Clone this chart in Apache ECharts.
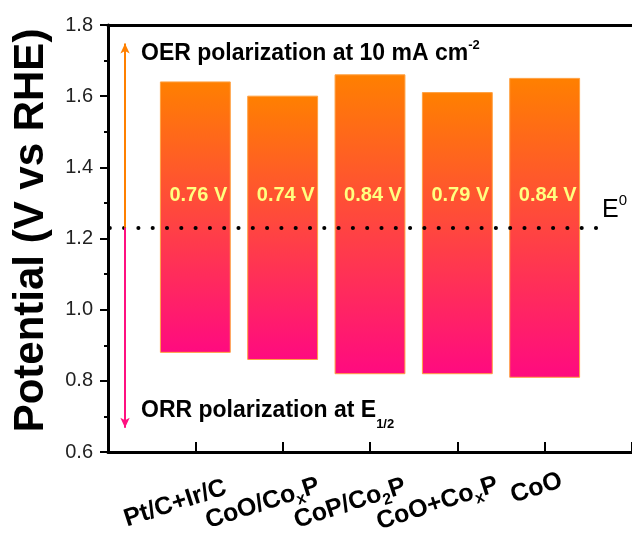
<!DOCTYPE html>
<html>
<head>
<meta charset="utf-8">
<script src="https://cdn.jsdelivr.net/npm/echarts@6/dist/echarts.min.js"></script>
<style>
  html, body { margin: 0; padding: 0; background: #fff; }
  #chart { width: 632px; height: 536px; }
</style>
</head>
<body>
<div id="chart"></div>
<script>
// Catalysts and their bifunctional potentials (V vs RHE)
const categories = ['Pt/C+Ir/C', 'CoO/Co_xP', 'CoP/Co_2P', 'CoO+Co_xP', 'CoO'];
const oerPotential = [1.64, 1.60, 1.66, 1.61, 1.65];   // OER at 10 mA cm-2
const orrPotential = [0.88, 0.86, 0.82, 0.82, 0.81];   // ORR half-wave E1/2
const yTicks = [0.6, 0.8, 1.0, 1.2, 1.4, 1.6, 1.8];
const E0 = 1.23;               // equilibrium potential
const GAP_LABEL_LEVEL = 1.322; // potential at which the gap labels sit
const ARROW_X = 0.195;         // x position of the OER/ORR arrows (axis units)
const OER_ARROW_TIP = 1.748;
const ORR_ARROW_TIP = 0.668;

const FONT = 'Liberation Sans, Arial, sans-serif';

// per-label nudge of the slanted category names: [trailing gap width, bottom padding]
const nameNudge = [[42, 0], [42, 0], [42, 0], [42, 0], [10, 22]];

const barData = categories.map((c, i) => [i + 1, orrPotential[i], oerPotential[i]]);

function richName(name, idx) {
  // "Co_xP" -> Co + subscript x + P
  const body = name.split(/_(\w)/).map((part, k) =>
    part === '' ? '' : (k % 2 === 1 ? '{s' + idx + '|' + part + '}' : '{m' + idx + '|' + part + '}')
  ).join('');
  return body + '{g' + idx + '| }';
}

const nameRich = {};
nameNudge.forEach(([gap, padB], i) => {
  nameRich['m' + i] = { fontFamily: FONT, fontSize: 25, fontWeight: 'bold', color: '#000', lineHeight: 32, padding: [0, 0, padB, 0] };
  nameRich['s' + i] = { fontFamily: FONT, fontSize: 16, fontWeight: 'bold', color: '#000', verticalAlign: 'bottom', padding: [0, 0, padB, 0] };
  nameRich['g' + i] = { width: gap };
});

const chart = echarts.init(document.getElementById('chart'), null, { renderer: 'canvas' });

const option = {
  animation: false,
  backgroundColor: '#fff',
  grid: { left: 108, right: 0, top: 25, bottom: 84, containLabel: false, outerBoundsMode: 'none' },
  xAxis: [
    {
      type: 'value', min: 0, max: 6, interval: 1, position: 'bottom',
      axisLine: { show: true, onZero: false, lineStyle: { color: '#000', width: 3 } },
      axisTick: { show: true, inside: true, length: 10, lineStyle: { color: '#000', width: 2 } },
      splitLine: { show: false },
      axisLabel: {
        show: true, rotate: 18, align: 'center', verticalAlign: 'middle', margin: 45,
        formatter: v => (v >= 1 && v <= categories.length) ? richName(categories[v - 1], v - 1) : '',
        rich: nameRich
      }
    },
    {
      type: 'value', min: 0, max: 6, interval: 1, position: 'top',
      axisLine: { show: true, onZero: false, lineStyle: { color: '#000', width: 3 } },
      axisTick: { show: false }, axisLabel: { show: false }, splitLine: { show: false }
    }
  ],
  yAxis: {
    type: 'value', min: yTicks[0], max: yTicks[yTicks.length - 1], interval: 0.2,
    name: 'Potential (V vs RHE)', nameLocation: 'middle', nameGap: 56,
    nameTextStyle: { fontFamily: FONT, fontSize: 42, fontWeight: 'bold', color: '#000', padding: [0, 0, 0, 16] },
    axisLine: { show: true, onZero: false, lineStyle: { color: '#000', width: 3 } },
    axisTick: { show: true, inside: false, length: 8, lineStyle: { color: '#000', width: 2 } },
    minorTick: { show: true, splitNumber: 2, length: 4, lineStyle: { color: '#000', width: 2 } },
    splitLine: { show: false },
    axisLabel: { fontFamily: FONT, fontSize: 20, color: '#222', margin: 15, formatter: v => v.toFixed(1) }
  },
  series: [
    {
      type: 'custom',
      data: barData,
      z: 2,
      renderItem: function (params, api) {
        const x = api.value(0);
        const top = api.coord([x, api.value(2)]);
        const bottom = api.coord([x, api.value(1)]);
        const w = api.size([0.8, 0])[0];
        const labelPt = api.coord([x, GAP_LABEL_LEVEL]);
        const gap = (api.value(2) - api.value(1)).toFixed(2) + ' V';
        return {
          type: 'group',
          children: [
            {
              type: 'rect',
              shape: { x: top[0] - w / 2, y: top[1], width: w, height: bottom[1] - top[1] },
              style: {
                fill: new echarts.graphic.LinearGradient(0, 0, 0, 1, [
                  { offset: 0, color: '#ff8000' },
                  { offset: 1, color: '#ff0a80' }
                ]),
                stroke: '#ffa040', lineWidth: 1
              }
            },
            {
              type: 'text',
              x: labelPt[0] + 3, y: labelPt[1],
              style: {
                text: gap, fill: '#ffff80', font: 'bold 20px ' + FONT,
                align: 'center', verticalAlign: 'middle'
              }
            }
          ]
        };
      }
    },
    {
      type: 'line',
      data: [],
      z: 5,
      markLine: {
        silent: true,
        animation: false,
        label: { show: false },
        data: [
          [
            { coord: [0.02, E0], symbol: 'none', lineStyle: { color: '#000', width: 4, type: [0.1, 14.2], cap: 'round' } },
            { coord: [5.62, E0], symbol: 'none' }
          ],
          [
            { coord: [ARROW_X, E0], symbol: 'none', lineStyle: { color: '#ff8000', width: 2, type: 'solid' } },
            { coord: [ARROW_X, OER_ARROW_TIP], symbol: 'arrow', symbolSize: [7, 10] }
          ],
          [
            { coord: [ARROW_X, E0], symbol: 'none', lineStyle: { color: '#ff1080', width: 2, type: 'solid' } },
            { coord: [ARROW_X, ORR_ARROW_TIP], symbol: 'arrow', symbolSize: [7, 10] }
          ]
        ]
      }
    }
  ],
  graphic: [
    {
      type: 'text', left: 141, top: 39, z: 10,
      style: {
        text: '{m|OER polarization at 10 mA cm}{p|-2}',
        rich: {
          m: { fontFamily: FONT, fontSize: 23, fontWeight: 'bold', fill: '#000', lineHeight: 30 },
          p: { fontFamily: FONT, fontSize: 13, fontWeight: 'bold', fill: '#000', verticalAlign: 'top' }
        }
      }
    },
    {
      type: 'text', left: 141, top: 399, z: 10,
      style: {
        text: '{m|ORR polarization at E}{b|1/2}',
        rich: {
          m: { fontFamily: FONT, fontSize: 23, fontWeight: 'bold', fill: '#000', lineHeight: 40 },
          b: { fontFamily: FONT, fontSize: 13, fontWeight: 'bold', fill: '#000', verticalAlign: 'bottom' }
        }
      }
    },
    {
      type: 'text', left: 602, top: 193, z: 10,
      style: {
        text: '{m|E}{p|0}',
        rich: {
          m: { fontFamily: FONT, fontSize: 25, fill: '#000', lineHeight: 34 },
          p: { fontFamily: FONT, fontSize: 15, fill: '#000', verticalAlign: 'top' }
        }
      }
    }
  ]
};

chart.setOption(option);
</script>
</body>
</html>
